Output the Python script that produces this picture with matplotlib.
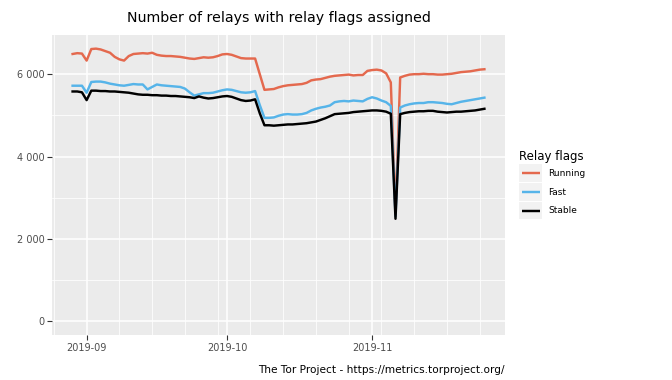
import numpy as np
import pandas as pd
import matplotlib
matplotlib.use("Agg")
import matplotlib.pyplot as plt
import matplotlib.dates as mdates
from matplotlib.legend_handler import HandlerLine2D
from matplotlib.patches import Rectangle
from matplotlib.lines import Line2D
from matplotlib.ticker import FuncFormatter, MultipleLocator

# daily values, 2019-08-29 .. 2019-11-25
start_date = "2019-08-29"

running = [
    6490, 6510, 6500,
    # Sep
    6330, 6610, 6620, 6600, 6560, 6520, 6420, 6360, 6330, 6440,
    6490, 6500, 6510, 6500, 6520, 6470, 6450, 6440, 6440, 6430,
    6420, 6400, 6380, 6370, 6390, 6410, 6400, 6410, 6440, 6480,
    # Oct
    6490, 6470, 6430, 6390, 6380, 6380, 6380, 6000, 5620, 5630,
    5640, 5680, 5710, 5730, 5740, 5750, 5760, 5790, 5850, 5870,
    5880, 5910, 5940, 5960, 5970, 5980, 5990, 5970, 5980, 5980, 6080,
    # Nov
    6100, 6110, 6090, 6020, 5800, 2600, 5920, 5960, 5990, 6000,
    6000, 6010, 6000, 6000, 5990, 5990, 6000, 6010, 6030, 6050,
    6060, 6070, 6090, 6110, 6120,
]

fast = [
    5720, 5720, 5720,
    # Sep
    5550, 5810, 5820, 5820, 5800, 5770, 5750, 5730, 5720, 5740,
    5760, 5750, 5750, 5630, 5690, 5750, 5730, 5720, 5710, 5700,
    5690, 5650, 5560, 5480, 5510, 5540, 5540, 5550, 5580, 5610,
    # Oct
    5630, 5620, 5590, 5560, 5550, 5560, 5590, 5250, 4940, 4940,
    4950, 4990, 5020, 5030, 5020, 5020, 5030, 5060, 5120, 5160,
    5190, 5210, 5240, 5320, 5340, 5350, 5340, 5360, 5350, 5340, 5400,
    # Nov
    5440, 5410, 5360, 5320, 5230, 2550, 5190, 5240, 5270, 5290,
    5300, 5300, 5320, 5320, 5310, 5300, 5280, 5270, 5300, 5330,
    5350, 5370, 5390, 5410, 5430,
]

stable = [
    5580, 5580, 5560,
    # Sep
    5370, 5600, 5600, 5590, 5590, 5580, 5580, 5570, 5560, 5550,
    5530, 5510, 5500, 5500, 5490, 5490, 5480, 5480, 5470, 5470,
    5460, 5450, 5440, 5420, 5460, 5430, 5410, 5420, 5440, 5460,
    # Oct
    5470, 5450, 5410, 5370, 5350, 5360, 5390, 5050, 4760, 4760,
    4750, 4760, 4770, 4780, 4780, 4790, 4800, 4810, 4830, 4850,
    4890, 4930, 4980, 5030, 5040, 5050, 5060, 5080, 5090, 5100, 5110,
    # Nov
    5120, 5120, 5110, 5090, 5040, 2490, 5030, 5060, 5080, 5090,
    5100, 5100, 5110, 5110, 5090, 5080, 5070, 5080, 5090, 5090,
    5100, 5110, 5120, 5140, 5160,
]

series_names = ["Running", "Fast", "Stable"]
series_colors = ["#E4694E", "#56B4E9", "#000000"]

dates = pd.date_range(start_date, periods=len(running), freq="D")

plt.rcParams.update({
    "font.family": "DejaVu Sans",
})


class KeyHandler(HandlerLine2D):
    # ggplot-style legend key: grey box behind a short line
    def create_artists(self, legend, orig_handle, xdescent, ydescent,
                       width, height, fontsize, trans):
        bg = Rectangle((-xdescent, -ydescent), width, height,
                       facecolor="#F2F2F2", edgecolor="none", transform=trans)
        y = height / 2 - ydescent
        ln = Line2D([-xdescent + width * 0.12, -xdescent + width * 0.88], [y, y],
                    color=orig_handle.get_color(), linewidth=orig_handle.get_linewidth(),
                    solid_capstyle="butt", transform=trans)
        return [bg, ln]


fig = plt.figure(figsize=(6.72, 3.80), dpi=100)
fig.patch.set_facecolor("white")
ax = fig.add_axes([52 / 672, 1 - 335 / 380, (505 - 52) / 672, (335 - 35) / 380])
ax.set_facecolor("#EBEBEB")

handles = []
for name, vals, col in zip(series_names, [running, fast, stable], series_colors):
    h, = ax.plot(dates, vals, color=col, linewidth=1.75, label=name,
                 solid_joinstyle="round", zorder=3)
    handles.append(h)

# ggplot-like 5% expansion, y range includes 0
all_vals = running + fast + stable
ymax = max(all_vals)
ax.set_ylim(-0.05 * ymax, ymax * 1.05)
span = (dates[-1] - dates[0])
ax.set_xlim(dates[0] - span * 0.05, dates[-1] + span * 0.05)

ax.yaxis.set_major_locator(MultipleLocator(2000))
ax.yaxis.set_minor_locator(MultipleLocator(1000))
ax.yaxis.set_major_formatter(FuncFormatter(lambda v, p: f"{int(v):,}".replace(",", " ")))
ax.xaxis.set_major_locator(mdates.MonthLocator())
ax.xaxis.set_minor_locator(mdates.WeekdayLocator(byweekday=mdates.SU))
ax.xaxis.set_major_formatter(mdates.DateFormatter("%Y-%m"))

ax.grid(which="major", color="white", linewidth=1.1, zorder=0)
ax.grid(which="minor", color="white", linewidth=0.55, zorder=0)
ax.set_axisbelow(True)
for s in ax.spines.values():
    s.set_visible(False)
ax.tick_params(which="major", length=3.5, width=0.8, color="#333333",
               labelsize=7, labelcolor="#4D4D4D", pad=2)
ax.tick_params(which="minor", length=0)

fig.text((52 + 505) / 2 / 672, 1 - 18 / 380, "Number of relays with relay flags assigned",
         ha="center", va="center", fontsize=10.2, color="black")

fig.text(505 / 672, 1 - 370 / 380, "The Tor Project - https://metrics.torproject.org/",
         ha="right", va="center", fontsize=7.6, color="black")

leg = fig.legend(handles=handles, labels=series_names, title="Relay flags",
                 loc="upper left", bbox_to_anchor=(519 / 672, 1 - 150 / 380),
                 frameon=False, fontsize=6.5, title_fontsize=8.5,
                 handlelength=2.6, handleheight=2.6, labelspacing=0.15,
                 handletextpad=0.6, borderpad=0, borderaxespad=0,
                 handler_map={Line2D: KeyHandler()}, alignment="left")

fig.savefig("out.png", dpi=100, facecolor="white")
